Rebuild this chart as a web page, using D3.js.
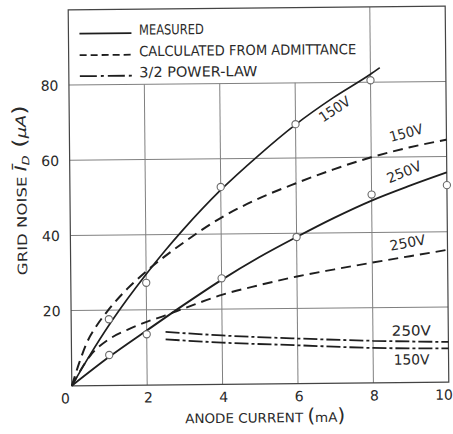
<!DOCTYPE html>
<html>
<head>
<meta charset="utf-8">
<script src="https://cdn.jsdelivr.net/npm/d3@7"></script>
<style>
  html, body { margin: 0; padding: 0; background: #fff; }
  svg { display: block; }
  text { font-family: "DejaVu Sans", "Liberation Sans", sans-serif; fill: #2a2a2a; }
</style>
</head>
<body>
<svg id="chart" width="453" height="434"></svg>
<script>
// Grid noise versus anode current, measured and calculated
const xTicks = [0, 2, 4, 6, 8, 10];
const xTickLabels = ["0", "2", "4", "6", "8", "10"];
const yTicks = [20, 40, 60, 80];
const yTickLabels = ["20", "40", "60", "80"];

// measured curves [mA, µA]
const measured150 = [[0,0],[0.5,8.3],[1,16],[1.5,23],[2,29.5],[2.5,35.6],[3,41.3],[4,51.7],[5,60.7],[6,68.9],[7,75.9],[8,82.1],[8.25,83.8]];
const measured250 = [[0,0],[1,7.6],[2,14.5],[3,21.3],[4,27.8],[5,33.7],[6,39],[7,44],[8,48.5],[9,52.3],[10,55.8]];
// measured points
const points150 = [[1,17.6],[2,27.2],[4,52.5],[6,69],[8,80.5]];
const points250 = [[1,8.1],[2,13.5],[4,28.2],[6,39],[8,50.1],[10,52.4]];
// calculated from admittance
const calc150 = [[0,0],[0.2,6],[0.4,11.2],[0.7,16.3],[1,20.2],[1.5,25.7],[2,30.2],[3,37.8],[4,44.3],[5,49.3],[6,53.3],[7,56.9],[8,60],[9,62.5],[10,64.5]];
const calc250 = [[0,0],[0.5,8],[1,12.3],[1.5,14.8],[2,16.8],[2.5,18.5],[3,20.3],[4,23.8],[5,26.3],[6,28.5],[7,30.3],[8,32],[9,33.6],[10,35.2]];
// 3/2 power-law
const power250 = [[2.5,14.1],[4,13.0],[6,12.0],[8,11.2],[10,10.7]];
const power150 = [[2.5,12.1],[4,11.1],[6,10.2],[8,9.3],[10,9.0]];

const legendItems = ["MEASURED", "CALCULATED FROM ADMITTANCE", "3/2 POWER-LAW"];

const svg = d3.select("#chart");
const g = svg.append("g").attr("transform", "rotate(-0.55 258 196)");

const x = d3.scaleLinear().domain([0, 10]).range([70, 447]);
const y = d3.scaleLinear().domain([0, 100]).range([384, 8]);

const ink = "#1e1e1e";
const gridCol = "#808080";

// grid: vertical lines left of x=8 stop under the legend
g.append("g").selectAll("line.v").data(xTicks.filter(d => d > 0 && d < 10)).join("line")
  .attr("x1", d => x(d)).attr("x2", d => x(d))
  .attr("y1", y(0)).attr("y2", d => d < 8 ? y(80) : y(100))
  .attr("stroke", gridCol).attr("stroke-width", 1);
g.append("g").selectAll("line.h").data(yTicks).join("line")
  .attr("x1", x(0)).attr("x2", x(10))
  .attr("y1", d => y(d)).attr("y2", d => y(d))
  .attr("stroke", gridCol).attr("stroke-width", 1);

// frame
g.append("rect").attr("x", x(0)).attr("y", y(100))
  .attr("width", x(10) - x(0)).attr("height", y(0) - y(100))
  .attr("fill", "none").attr("stroke", "#444").attr("stroke-width", 1.2);

// tick labels (the last one is pulled in so it stays inside the page)
const last = xTicks.length - 1;
g.append("g").selectAll("text").data(xTicks).join("text")
  .attr("x", (d, i) => i === 0 ? x(d) - 6.5 : (i === last ? x(d) + 4 : x(d) + 1))
  .attr("y", 401.5)
  .attr("text-anchor", (d, i) => i === last ? "end" : "middle")
  .attr("font-size", 14)
  .text((d, i) => xTickLabels[i]);
g.append("g").selectAll("text").data(yTicks).join("text")
  .attr("x", 59.5).attr("y", d => y(d) + 5.5).attr("text-anchor", "end").attr("font-size", 14)
  .text((d, i) => yTickLabels[i]);

// axis titles
const xt = g.append("text").attr("x", 263).attr("y", 422.5).attr("text-anchor", "middle")
  .attr("font-size", 13).attr("textLength", 160).attr("lengthAdjust", "spacingAndGlyphs");
xt.append("tspan").text("ANODE CURRENT ");
xt.append("tspan").attr("font-size", 19).text("(");
xt.append("tspan").text("mA");
xt.append("tspan").attr("font-size", 19).text(")");

const yt = g.append("text").attr("transform", "translate(26.5,188) rotate(-90)")
  .attr("text-anchor", "middle").attr("font-size", 13)
  .attr("textLength", 170).attr("lengthAdjust", "spacingAndGlyphs");
yt.append("tspan").text("GRID NOISE ");
yt.append("tspan").attr("font-size", 16).attr("font-style", "italic").text("Ī");
yt.append("tspan").attr("font-size", 10).attr("font-style", "italic").attr("dy", 3).text("D");
yt.append("tspan").attr("font-size", 19).attr("dy", -3).text(" (");
yt.append("tspan").attr("font-size", 14).attr("font-style", "italic").text("μA");
yt.append("tspan").attr("font-size", 19).text(")");

// curves
const line = d3.line().x(d => x(d[0])).y(d => y(d[1])).curve(d3.curveMonotoneX);
const styles = {
  solid: null,
  dashed: "10 6",
  dashdot: "14 3 3 3"
};
const curves = [
  { data: measured150, dash: styles.solid, w: 1.7 },
  { data: measured250, dash: styles.solid, w: 1.9 },
  { data: calc150, dash: styles.dashed, w: 2 },
  { data: calc250, dash: styles.dashed, w: 1.9 },
  { data: power250, dash: styles.dashdot, w: 1.8 },
  { data: power150, dash: styles.dashdot, w: 1.8 }
];
g.append("g").selectAll("path").data(curves).join("path")
  .attr("d", d => line(d.data))
  .attr("fill", "none").attr("stroke", ink)
  .attr("stroke-width", d => d.w)
  .attr("stroke-dasharray", d => d.dash);

// measured points
g.append("g").selectAll("circle").data(points150.concat(points250)).join("circle")
  .attr("cx", d => x(d[0])).attr("cy", d => y(d[1])).attr("r", 3.6)
  .attr("fill", "#fff").attr("stroke", "#6a6a6a").attr("stroke-width", 1.1);

// curve labels
const curveLabels = [
  { t: "150V", cx: 338, cy: 114, a: -33, len: 34 },
  { t: "150V", cx: 408, cy: 139, a: -15, len: 34 },
  { t: "250V", cx: 406, cy: 178, a: -22, len: 36 },
  { t: "250V", cx: 408, cy: 249, a: -10, len: 36 },
  { t: "250V", cx: 410, cy: 337, a: 0, len: 39 },
  { t: "150V", cx: 410, cy: 366, a: 0, len: 36 }
];
g.append("g").selectAll("text").data(curveLabels).join("text")
  .attr("transform", d => `translate(${d.cx},${d.cy}) rotate(${d.a})`)
  .attr("text-anchor", "middle").attr("font-size", 14)
  .attr("textLength", d => d.len).attr("lengthAdjust", "spacingAndGlyphs")
  .text(d => d.t);

// legend
const legendBase = [33.5, 55, 76];
const legendDash = [styles.solid, "7 4", "17 4 3 4"];
const lg = g.append("g");
lg.selectAll("line").data(legendItems).join("line")
  .attr("x1", 81).attr("x2", 133)
  .attr("y1", (d, i) => legendBase[i] - 1.5).attr("y2", (d, i) => legendBase[i] - 1.5)
  .attr("stroke", ink).attr("stroke-width", 1.8)
  .attr("stroke-dasharray", (d, i) => legendDash[i]);
const legendLen = [65, 217, 118];
lg.selectAll("text").data(legendItems).join("text")
  .attr("x", 140.5).attr("y", (d, i) => legendBase[i]).attr("font-size", 14)
  .attr("textLength", (d, i) => legendLen[i]).attr("lengthAdjust", "spacingAndGlyphs")
  .text(d => d);
</script>
</body>
</html>
